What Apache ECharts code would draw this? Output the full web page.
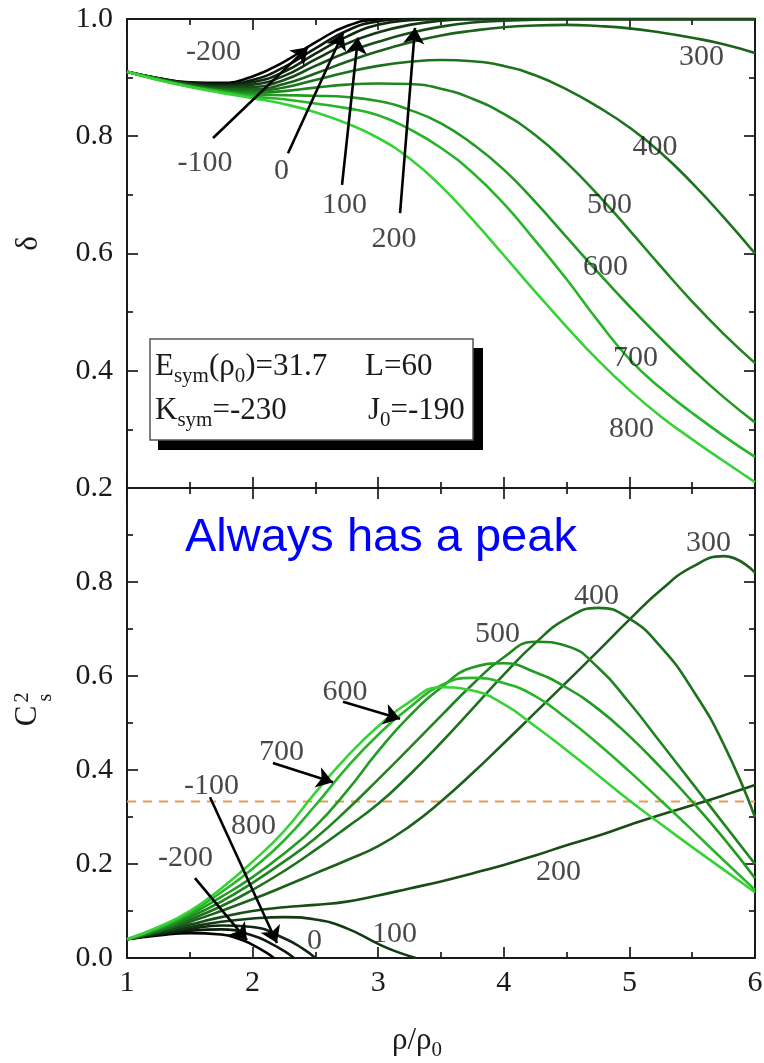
<!DOCTYPE html>
<html><head><meta charset="utf-8">
<script src="https://cdn.jsdelivr.net/npm/echarts@6/dist/echarts.min.js"></script>
<style>html,body{margin:0;padding:0;background:#fff}#chart{width:764px;height:1063px}</style>
</head><body><div id="chart"></div>
<script>
// ---------------- data ----------------
const xGrid = [1,1.25,1.5,1.75,2,2.25,2.5,2.75,3,3.25,3.5,3.75,4,4.25,4.5,4.75,5,5.25,5.5,5.75,6];
const curveNames = ['-200','-100','0','100','200','300','400','500','600','700','800'];

// top panel: delta vs rho/rho0
const delta_m200 = [0.910,0.899,0.892,0.891,0.902,0.927,0.960,0.988,0.999,1.0,1.0,1.0,1.0,1.0,1.0,1.0,1.0,1.0,1.0,1.0,1.0];
const delta_m100 = [0.910,0.899,0.891,0.889,0.896,0.918,0.950,0.980,0.996,1.0,1.0,1.0,1.0,1.0,1.0,1.0,1.0,1.0,1.0,1.0,1.0];
const delta_0    = [0.910,0.899,0.890,0.887,0.892,0.910,0.941,0.970,0.990,0.998,1.0,1.0,1.0,1.0,1.0,1.0,1.0,1.0,1.0,1.0,1.0];
const delta_100  = [0.910,0.898,0.889,0.885,0.888,0.903,0.931,0.958,0.977,0.990,0.997,1.0,1.0,1.0,1.0,1.0,1.0,1.0,1.0,1.0,1.0];
const delta_200  = [0.910,0.898,0.888,0.883,0.884,0.896,0.920,0.943,0.961,0.976,0.987,0.994,0.997,0.999,1.0,1.0,1.0,1.0,1.0,1.0,1.0];
const delta_300  = [0.910,0.898,0.887,0.881,0.880,0.889,0.907,0.927,0.945,0.960,0.972,0.980,0.986,0.989,0.990,0.988,0.984,0.977,0.968,0.957,0.942];
const delta_400  = [0.910,0.897,0.886,0.879,0.877,0.883,0.896,0.909,0.920,0.927,0.930,0.928,0.920,0.904,0.880,0.850,0.815,0.772,0.720,0.662,0.600];
const delta_500  = [0.910,0.897,0.886,0.878,0.874,0.877,0.883,0.888,0.890,0.889,0.881,0.864,0.838,0.802,0.755,0.700,0.640,0.578,0.518,0.463,0.413];
const delta_600  = [0.910,0.897,0.885,0.877,0.871,0.870,0.869,0.867,0.860,0.845,0.822,0.787,0.743,0.688,0.628,0.568,0.510,0.455,0.403,0.355,0.312];
const delta_700  = [0.910,0.896,0.885,0.876,0.868,0.863,0.856,0.848,0.836,0.812,0.780,0.738,0.685,0.622,0.556,0.485,0.420,0.370,0.328,0.289,0.253];
const delta_800  = [0.910,0.896,0.884,0.874,0.865,0.855,0.841,0.822,0.797,0.762,0.715,0.658,0.597,0.535,0.475,0.418,0.367,0.322,0.283,0.246,0.210];

// bottom panel: Cs^2 vs rho/rho0
const cs2x_m200 = [1,1.25,1.5,1.75,1.9,2.0,2.1,2.17];
const cs2_m200  = [0.040,0.048,0.053,0.050,0.040,0.028,0.013,0.0];
const cs2x_m100 = [1,1.25,1.5,1.75,2.0,2.15,2.25,2.33];
const cs2_m100  = [0.040,0.050,0.058,0.061,0.048,0.030,0.015,0.0];
const cs2x_0    = [1,1.25,1.5,1.75,2.0,2.25,2.4,2.5];
const cs2_0     = [0.040,0.051,0.062,0.069,0.066,0.042,0.020,0.0];
const cs2x_100  = [1,1.25,1.5,1.75,2.0,2.25,2.5,2.75,3.0,3.15,3.3];
const cs2_100   = [0.040,0.053,0.066,0.077,0.084,0.087,0.082,0.063,0.030,0.013,0.0];
const cs2_200 = [0.040,0.055,0.071,0.087,0.100,0.108,0.113,0.120,0.133,0.148,0.163,0.180,0.198,0.218,0.240,0.260,0.283,0.305,0.325,0.346,0.368];
const cs2_300 = [0.040,0.057,0.077,0.100,0.125,0.152,0.180,0.208,0.238,0.280,0.333,0.393,0.457,0.522,0.587,0.653,0.720,0.783,0.832,0.855,0.820];
const cs2_400 = [0.040,0.058,0.082,0.110,0.145,0.185,0.230,0.278,0.328,0.390,0.458,0.530,0.603,0.670,0.722,0.745,0.722,0.662,0.572,0.455,0.300];
const cs2_500 = [0.040,0.060,0.087,0.120,0.160,0.205,0.255,0.315,0.380,0.447,0.515,0.582,0.640,0.673,0.664,0.618,0.543,0.458,0.372,0.286,0.200];
const cs2_600 = [0.040,0.062,0.092,0.130,0.172,0.222,0.280,0.355,0.440,0.515,0.575,0.618,0.627,0.608,0.575,0.530,0.472,0.405,0.333,0.255,0.170];
const cs2_700 = [0.040,0.064,0.096,0.140,0.190,0.250,0.325,0.405,0.475,0.533,0.580,0.596,0.585,0.557,0.510,0.456,0.397,0.335,0.272,0.208,0.145];
const cs2_800 = [0.040,0.066,0.100,0.148,0.205,0.270,0.352,0.428,0.493,0.545,0.576,0.569,0.540,0.493,0.442,0.389,0.335,0.285,0.236,0.188,0.140];
const cs2Limit = 0.333;

// annotations (data coordinates)
const topLabels = [['-200',1.689,0.943],['-100',1.621,0.755],['0',2.230,0.741],['100',2.732,0.683],['200',3.126,0.625],
  ['300',5.574,0.935],['400',5.204,0.782],['500',4.842,0.683],['600',4.810,0.576],['700',5.049,0.421],['800',5.017,0.301]];
const topArrows = [[[1.685,0.797],[2.441,0.952]],[[2.282,0.771],[2.720,0.976]],[[2.712,0.717],[2.839,0.968]],[[3.174,0.669],[3.293,0.985]]];
const botLabels = [['300',5.630,0.883],['400',4.738,0.770],['500',3.950,0.689],['600',2.736,0.565],['700',2.230,0.438],
  ['-100',1.673,0.366],['800',2.007,0.281],['-200',1.466,0.213],['0',2.493,0.036],['100',3.130,0.051],['200',4.436,0.183]];
const botArrows = [[[2.720,0.545],[3.174,0.509]],[[2.162,0.415],[2.640,0.374]],[[1.661,0.342],[2.194,0.032]],[[1.541,0.170],[1.955,0.038]]];

// ---------------- styling ----------------
const curveColors = ['#030303','#0b1a0b','#0f280f','#143a14','#184d18','#1b611b','#1d721d','#1f851f','#229b22','#29b529','#36d236'];
const serif = "'Liberation Serif','Times New Roman',serif";
const ink = '#1a1a1a';

const deltaData = [delta_m200,delta_m100,delta_0,delta_100,delta_200,delta_300,delta_400,delta_500,delta_600,delta_700,delta_800];
const cs2Full = {'200':cs2_200,'300':cs2_300,'400':cs2_400,'500':cs2_500,'600':cs2_600,'700':cs2_700,'800':cs2_800};
const cs2Short = {'-200':[cs2x_m200,cs2_m200],'-100':[cs2x_m100,cs2_m100],'0':[cs2x_0,cs2_0],'100':[cs2x_100,cs2_100]};

function xAx(grid, pos, labels){
  return {type:'value', gridIndex:grid, position:pos, min:1, max:6, interval:1,
    axisLine:{onZero:false, lineStyle:{color:ink, width:2}},
    axisTick:{inside:true, length:11, lineStyle:{color:ink, width:1.7}},
    minorTick:{show:true, splitNumber:2, length:6, lineStyle:{color:ink, width:1.7}},
    splitLine:{show:false},
    axisLabel:{show:labels, margin:10, fontFamily:serif, fontSize:30, color:ink}};
}
function yAx(grid, pos, min, labels, fmt){
  return {type:'value', gridIndex:grid, position:pos, min:min, max:1.0, interval:0.2,
    axisLine:{onZero:false, lineStyle:{color:ink, width:2}},
    axisTick:{inside:true, length:11, lineStyle:{color:ink, width:1.7}},
    minorTick:{show:true, splitNumber:2, length:6, lineStyle:{color:ink, width:1.7}},
    splitLine:{show:false},
    axisLabel:{show:labels, margin:14, fontFamily:serif, fontSize:30, color:ink, formatter:fmt}};
}

const lineCommon = {showSymbol:false, symbol:'none', smooth:0.5, silent:true};
const series = [];
curveNames.forEach((n,i)=>{
  series.push(Object.assign({type:'line', xAxisIndex:0, yAxisIndex:0, data:xGrid.map((x,j)=>[x,deltaData[i][j]]),
    lineStyle:{color:curveColors[i], width:2.6}, z:3+i}, lineCommon));
});
series.push({type:'line', xAxisIndex:2, yAxisIndex:2, data:[[1,cs2Limit],[6,cs2Limit]], showSymbol:false, symbol:'none',
  lineStyle:{color:'#e99a50', width:1.8, type:[9,7]}, z:2, silent:true});
curveNames.forEach((n,i)=>{
  let d;
  if (cs2Short[n]) d = cs2Short[n][0].map((x,j)=>[x,cs2Short[n][1][j]]);
  else d = xGrid.map((x,j)=>[x,cs2Full[n][j]]);
  series.push(Object.assign({type:'line', xAxisIndex:2, yAxisIndex:2, data:d,
    lineStyle:{color:curveColors[i], width:2.6}, z:3+i}, lineCommon));
});
[[0,topArrows],[2,botArrows]].forEach(([ax,arr])=>{
  series.push({type:'lines', coordinateSystem:'cartesian2d', xAxisIndex:ax, yAxisIndex:ax,
    symbol:['none','arrow'], symbolSize:[10,16], silent:true, z:20,
    lineStyle:{color:'#000', width:2.6, opacity:1, curveness:0},
    data:arr.map(a=>({coords:a}))});
});
[[0,topLabels],[2,botLabels]].forEach(([ax,arr])=>{
  series.push({type:'scatter', xAxisIndex:ax, yAxisIndex:ax, symbolSize:1, silent:true, z:30,
    itemStyle:{color:'rgba(0,0,0,0)'},
    label:{show:true, position:'inside', formatter:'{b}', fontFamily:serif, fontSize:30, color:ink},
    data:arr.map(a=>({name:a[0], value:[a[1],a[2]]}))});
});

// helper: text runs with sub/superscripts, positioned by measured widths
const mctx = document.createElement('canvas').getContext('2d');
function run(x0, base, parts){
  let x = x0; const out = [];
  parts.forEach(p=>{
    const f = p.s + 'px ' + serif;
    mctx.font = f;
    const w = mctx.measureText(p.t).width;
    out.push({type:'text', x:x, y:base + (p.dy||0) - 0.34*p.s, z:101,
      style:{text:p.t, font:f, fill:ink, align:'left', verticalAlign:'middle'}});
    x += w;
  });
  return out;
}

const graphics = [
  {type:'rect', shape:{x:158, y:348, width:325, height:102}, style:{fill:'#000'}, z:99},
  {type:'rect', shape:{x:150, y:339, width:323, height:101}, style:{fill:'#fff', stroke:'#555', lineWidth:1.5}, z:100},
  ...run(155, 377, [{t:'E',s:31},{t:'sym',s:21,dy:7},{t:'(ρ',s:31},{t:'0',s:21,dy:7},{t:')=31.7',s:31}]),
  ...run(365, 377, [{t:'L=60',s:31}]),
  ...run(155, 421, [{t:'K',s:31},{t:'sym',s:21,dy:7},{t:'=-230',s:31}]),
  ...run(368, 421, [{t:'J',s:31},{t:'0',s:21,dy:7},{t:'=-190',s:31}]),
  {type:'text', x:185, y:538, z:101, style:{text:'Always has a peak', font:"47px 'Liberation Sans', Arial, sans-serif", fill:'#0000ff', align:'left', verticalAlign:'middle'}},
  {type:'text', x:28.5, y:243.5, rotation:Math.PI/2, z:101, style:{text:'δ', font:'31px '+serif, fill:ink, align:'center', verticalAlign:'middle'}},
  {type:'text', x:27.5, y:716, rotation:Math.PI/2, z:101, style:{text:'C', font:'31px '+serif, fill:ink, align:'center', verticalAlign:'middle'}},
  {type:'text', x:23, y:697.5, rotation:Math.PI/2, z:101, style:{text:'2', font:'20px '+serif, fill:ink, align:'center', verticalAlign:'middle'}},
  {type:'text', x:46, y:697.5, rotation:Math.PI/2, z:101, style:{text:'s', font:'20px '+serif, fill:ink, align:'center', verticalAlign:'middle'}},
  ...run(392, 1051, [{t:'ρ/ρ',s:31},{t:'0',s:21,dy:7}])
];

const chart = echarts.init(document.getElementById('chart'), null, {renderer:'canvas'});
chart.setOption({
  animation:false,
  backgroundColor:'#fff',
  grid:[{left:127, top:19, width:628, height:469, outerBoundsMode:'none'},
        {left:127, top:488, width:628, height:470, outerBoundsMode:'none'}],
  xAxis:[xAx(0,'bottom',false), xAx(0,'top',false), xAx(1,'bottom',true), xAx(1,'top',false)],
  yAxis:[yAx(0,'left',0.2,true,v=>v.toFixed(1)), yAx(0,'right',0.2,false),
         yAx(1,'left',0,true,v=>(v>0.95?'':v.toFixed(1))), yAx(1,'right',0,false)],
  series:series,
  graphic:graphics
});
</script></body></html>
